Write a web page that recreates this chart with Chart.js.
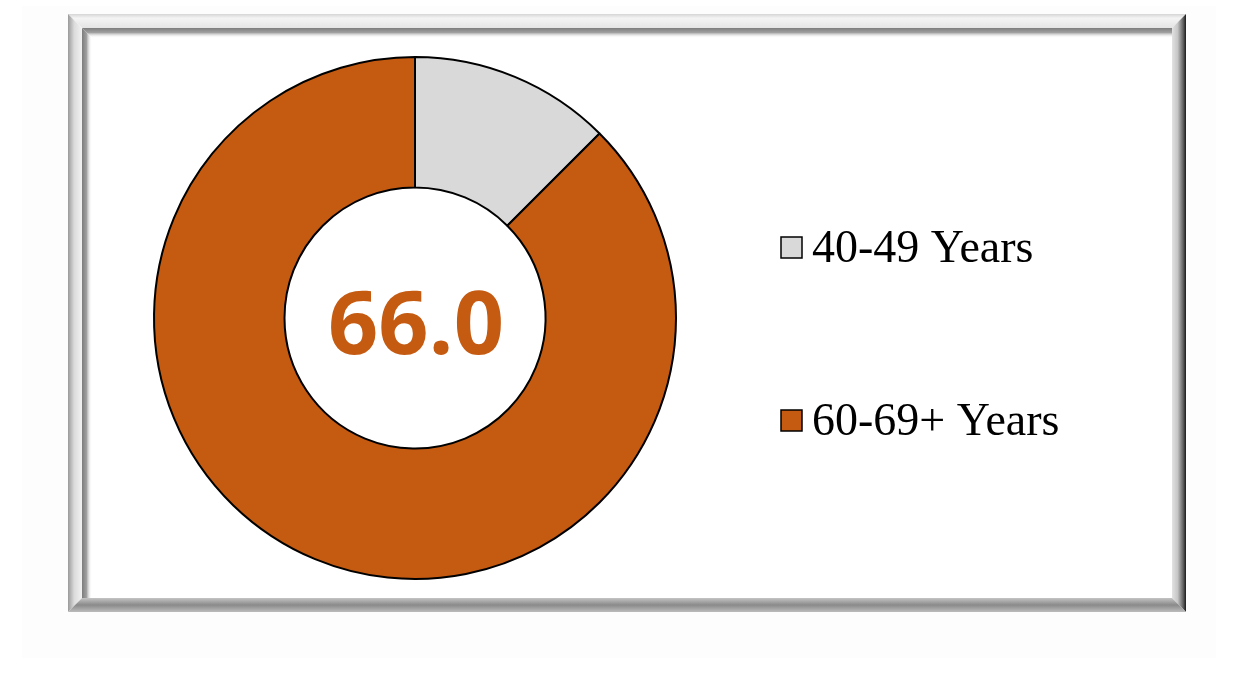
<!DOCTYPE html>
<html>
<head>
<meta charset="utf-8">
<script src="https://cdn.jsdelivr.net/npm/chart.js@4.4.1/dist/chart.umd.min.js"></script>
<style>
    html, body { margin: 0; padding: 0; background: #fff; }
    #wrap { width: 1234px; height: 680px; }
</style>
</head>
<body>
<div id="wrap"><canvas id="ageChart" width="1234" height="680"></canvas></div>
<script>
// chart data
const labels = ['40-49 Years', '60-69+ Years'];
const shares = [12.5, 87.5];
const sliceColors = ['#D9D9D9', '#C55A11'];
const centerLabel = '66.0';

// draws a filled polygon with a linear gradient
function bevel(ctx, pts, g0, g1, stops) {
    const g = ctx.createLinearGradient(g0[0], g0[1], g1[0], g1[1]);
    stops.forEach(([o, c]) => g.addColorStop(o, c));
    ctx.fillStyle = g;
    ctx.beginPath();
    ctx.moveTo(pts[0][0], pts[0][1]);
    for (let i = 1; i < pts.length; i++) ctx.lineTo(pts[i][0], pts[i][1]);
    ctx.closePath();
    ctx.fill();
}

const framePlugin = {
    id: 'frame',
    beforeDraw(chart) {
        const ctx = chart.ctx;
        const O = { l: 68, t: 14, r: 1186, b: 612 };
        const I = { l: 82, t: 28, r: 1172, b: 598 };
        ctx.save();
        ctx.fillStyle = '#fff';
        ctx.fillRect(0, 0, chart.width, chart.height);
        // faint halo round the frame
        ctx.fillStyle = '#fdfdfd';
        ctx.fillRect(22, 6, 1194, 652);
        ctx.fillStyle = '#fff';
        ctx.fillRect(O.l, O.t, O.r - O.l, O.b - O.t);

        // top
        bevel(ctx, [[O.l, O.t], [O.r, O.t], [I.r, I.t], [I.l, I.t]], [0, O.t], [0, I.t],
            [[0, '#d6d6d6'], [0.3, '#f4f4f4'], [1, '#e4e4e4']]);
        // left
        bevel(ctx, [[O.l, O.t], [I.l, I.t], [I.l, I.b], [O.l, O.b]], [O.l, 0], [I.l, 0],
            [[0, '#9a9a9a'], [0.45, '#dcdcdc'], [1, '#f2f2f2']]);
        // right
        bevel(ctx, [[O.r, O.t], [O.r, O.b], [I.r, I.b], [I.r, I.t]], [I.r, 0], [O.r, 0],
            [[0, '#e2e2e2'], [0.4, '#c6c6c6'], [0.8, '#606060'], [1, '#1a1a1a']]);
        // bottom
        bevel(ctx, [[O.l, O.b], [I.l, I.b], [I.r, I.b], [O.r, O.b]], [0, I.b], [0, O.b],
            [[0, '#c4c4c4'], [0.5, '#8a8a8a'], [1, '#bcbcbc']]);

        // inner shadow on top and left
        bevel(ctx, [[I.l, I.t], [I.r, I.t], [I.r, I.t + 10], [I.l + 10, I.t + 10]], [0, I.t], [0, I.t + 10],
            [[0, '#7c7c7c'], [0.45, '#a0a0a0'], [1, 'rgba(255,255,255,0)']]);
        bevel(ctx, [[I.l, I.t], [I.l + 10, I.t + 10], [I.l + 10, I.b], [I.l, I.b]], [I.l, 0], [I.l + 10, 0],
            [[0, '#7c7c7c'], [0.45, '#a0a0a0'], [1, 'rgba(255,255,255,0)']]);
        ctx.restore();
    }
};

const labelPlugin = {
    id: 'labels',
    afterDraw(chart) {
        const ctx = chart.ctx;
        const arc = chart.getDatasetMeta(0).data[0];
        const colors = chart.data.datasets[0].backgroundColor;
        ctx.save();

        // value in the hole
        ctx.fillStyle = '#C55A11';
        ctx.font = 'bold 88px "Open Sans"';
        ctx.textAlign = 'center';
        ctx.textBaseline = 'alphabetic';
        ctx.fillText(centerLabel, arc.x + 1, arc.y + 36);

        // legend
        const rows = [262, 435];
        ctx.font = '46px "Liberation Serif"';
        ctx.textAlign = 'left';
        chart.data.labels.forEach((lab, i) => {
            const y = rows[i];
            ctx.fillStyle = colors[i];
            ctx.fillRect(781, y - 25, 21, 21);
            ctx.strokeStyle = '#000';
            ctx.lineWidth = 1.5;
            ctx.strokeRect(781, y - 25, 21, 21);
            ctx.fillStyle = '#000';
            ctx.fillText(lab, 812, y);
        });
        ctx.restore();
    }
};

new Chart(document.getElementById('ageChart'), {
    type: 'doughnut',
    data: {
        labels: labels,
        datasets: [{
            data: shares,
            backgroundColor: sliceColors,
            borderColor: '#000',
            borderWidth: 2
        }]
    },
    options: {
        responsive: false,
        animation: false,
        cutout: '50%',
        layout: { padding: { left: 153, top: 56, right: 557, bottom: 100 } },
        plugins: { legend: { display: false }, tooltip: { enabled: false } }
    },
    plugins: [framePlugin, labelPlugin]
});
</script>
</body>
</html>
